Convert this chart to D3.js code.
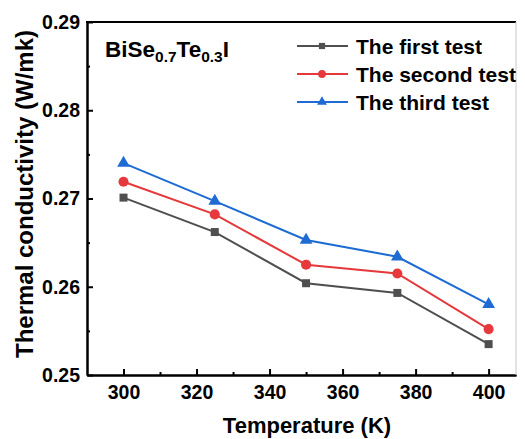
<!DOCTYPE html>
<html>
<head>
<meta charset="utf-8">
<script src="https://cdn.jsdelivr.net/npm/d3@7"></script>
<style>
  body { margin: 0; background: #fff; }
  text { font-family: "Liberation Sans", Arial, sans-serif; font-weight: bold; fill: #000; }
</style>
</head>
<body>
<svg id="chart" width="525" height="439"></svg>
<script>
const temps = [300, 325, 350, 375, 400];
const firstTest = [0.2701, 0.2662, 0.2604, 0.2593, 0.2535];
const secondTest = [0.2719, 0.2682, 0.2625, 0.2615, 0.2552];
const thirdTest = [0.2740, 0.2697, 0.2653, 0.2634, 0.2580];
const seriesNames = ["The first test", "The second test", "The third test"];
const xTicks = [300, 320, 340, 360, 380, 400];
const yTicks = [0.25, 0.26, 0.27, 0.28, 0.29];

const svg = d3.select("#chart");
const plotLeft = 87, plotRight = 516, plotTop = 22, plotBottom = 375;

const x = d3.scaleLinear().domain([290, 407.5]).range([plotLeft, plotRight]);
const y = d3.scaleLinear().domain([0.25, 0.29]).range([plotBottom, plotTop]);

const series = [
    { name: seriesNames[0], values: firstTest, color: "#4f4f4f", shape: d3.symbolSquare, size: 64 },
    { name: seriesNames[1], values: secondTest, color: "#e5393b", shape: d3.symbolCircle, size: 80 },
    { name: seriesNames[2], values: thirdTest, color: "#1d6bd3", shape: d3.symbolTriangle, size: 70 }
];

// axes (ticks inward)
svg.append("g")
    .attr("transform", `translate(0,${plotBottom})`)
    .call(d3.axisBottom(x).tickValues(xTicks).tickSize(-6).tickSizeOuter(0).tickPadding(10));
svg.append("g")
    .attr("transform", `translate(0,${plotBottom})`)
    .call(d3.axisBottom(x).tickValues(d3.range(310, 400, 20)).tickSize(-3).tickSizeOuter(0).tickFormat(""));

svg.append("g")
    .attr("transform", `translate(${plotLeft},0)`)
    .call(d3.axisLeft(y).tickValues(yTicks).tickSize(-6).tickSizeOuter(0).tickPadding(7).tickFormat(d3.format(".2f")));
svg.append("g")
    .attr("transform", `translate(${plotLeft},0)`)
    .call(d3.axisLeft(y).tickValues([0.255, 0.265, 0.275, 0.285]).tickSize(-3).tickSizeOuter(0).tickFormat(""));

svg.selectAll(".domain").attr("stroke", "#000").attr("stroke-width", 2);
svg.selectAll(".tick line").attr("stroke", "#000").attr("stroke-width", 2);
svg.selectAll(".tick text").style("font-size", "19.5px").style("font-family", "Liberation Sans, Arial, sans-serif").style("font-weight", "bold").attr("fill", "#000");

// frame top and right
svg.append("line").attr("x1", plotLeft - 1).attr("x2", plotRight).attr("y1", plotTop).attr("y2", plotTop)
    .attr("stroke", "#000").attr("stroke-width", 2);
svg.append("line").attr("x1", plotRight).attr("x2", plotRight).attr("y1", plotTop).attr("y2", plotBottom)
    .attr("stroke", "#c8c8c8").attr("stroke-width", 1);

// lines and markers
const line = d3.line().x((d, i) => x(temps[i])).y(d => y(d));
series.forEach(s => {
    svg.append("path").datum(s.values)
        .attr("d", line).attr("fill", "none")
        .attr("stroke", s.color).attr("stroke-width", 2);
    svg.selectAll(null).data(s.values).enter().append("path")
        .attr("transform", (d, i) => `translate(${x(temps[i])},${y(d)})`)
        .attr("d", d3.symbol().type(s.shape).size(s.size))
        .attr("fill", s.color);
});

// legend
series.forEach((s, i) => {
    const ly = 46 + i * 28;
    svg.append("line").attr("x1", 297).attr("x2", 348).attr("y1", ly).attr("y2", ly)
        .attr("stroke", s.color).attr("stroke-width", 2);
    svg.append("path").attr("transform", `translate(322,${ly})`)
        .attr("d", d3.symbol().type(s.shape).size(s.size * 0.6)).attr("fill", s.color);
    svg.append("text").attr("x", 356).attr("y", ly + 7.5)
        .style("font-size", "21px").text(s.name);
});

// compound label
const lab = svg.append("text").attr("x", 105).attr("y", 57).style("font-size", "22.5px");
lab.append("tspan").text("BiSe");
lab.append("tspan").attr("dy", 5).style("font-size", "15.5px").text("0.7");
lab.append("tspan").attr("dy", -5).text("Te");
lab.append("tspan").attr("dy", 5).style("font-size", "15.5px").text("0.3");
lab.append("tspan").attr("dy", -5).text("I");

// axis titles
svg.append("text").attr("x", 307).attr("y", 433).attr("text-anchor", "middle")
    .style("font-size", "22px").text("Temperature (K)");
svg.append("text").attr("transform", "translate(33,194) rotate(-90)")
    .attr("text-anchor", "middle").style("font-size", "24px").text("Thermal conductivity (W/mk)");
</script>
</body>
</html>
